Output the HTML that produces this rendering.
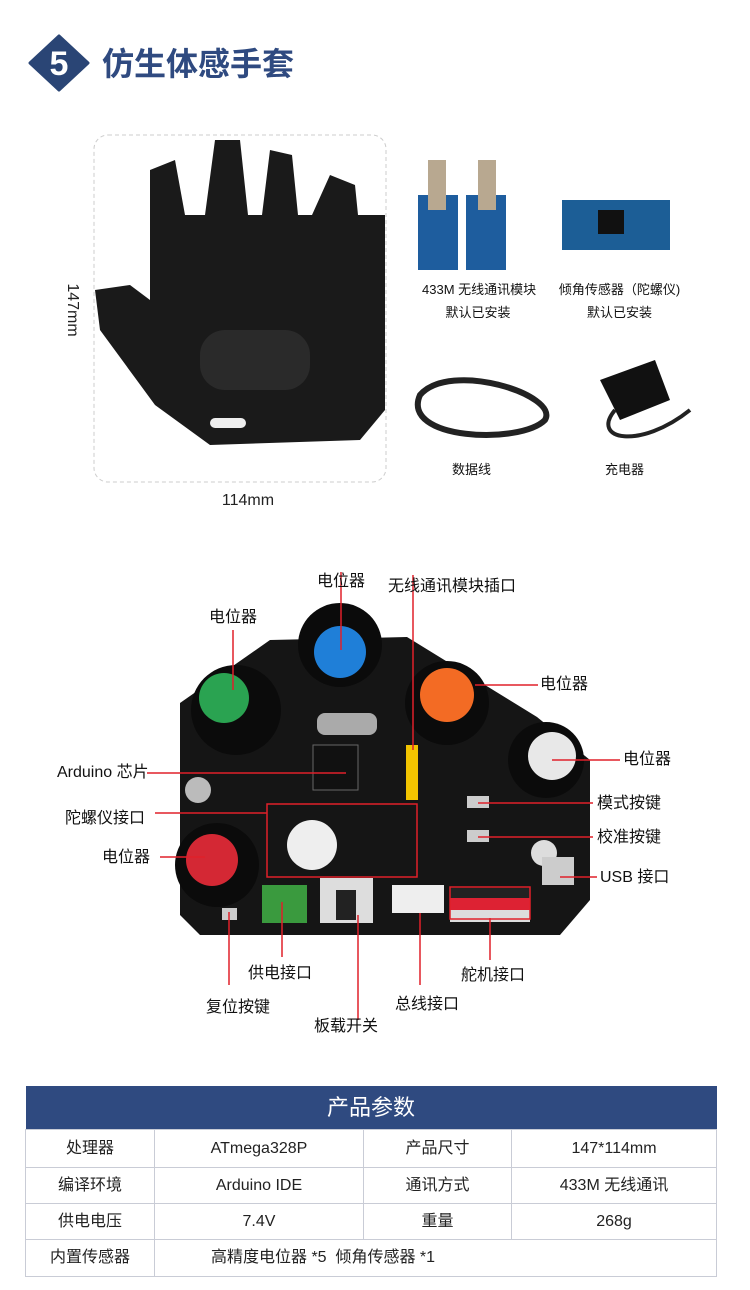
<!DOCTYPE html>
<html><head><meta charset="utf-8"><style>
body{margin:0;width:750px;height:1290px;background:#fff;font-family:"Liberation Sans","Noto Sans CJK SC",sans-serif;position:relative;overflow:hidden}
.a{position:absolute;white-space:nowrap}
.lb{position:absolute;font-size:16px;color:#111;white-space:nowrap;line-height:20px}
table{position:absolute;left:25px;top:1086px;width:692px;border-collapse:collapse;font-size:16px;color:#222}
td{border:1px solid #c9ccd6;text-align:center;height:35px;padding:0;line-height:20px;vertical-align:middle}
th{background:#2f4a80;color:#fff;font-size:22px;font-weight:normal;height:41px;line-height:28px}
</style></head><body>
<svg class="a" style="left:28px;top:34px" width="62" height="58"><path d="M31 2 L60 29 L31 56 L2 29 Z" fill="#2a4575" stroke="#2a4575" stroke-width="3" stroke-linejoin="round"/><text x="31" y="41" fill="#fff" font-size="34" font-weight="bold" text-anchor="middle" font-family="Liberation Sans">5</text></svg>
<div class="a" style="left:102px;top:44px;font-size:32px;font-weight:bold;color:#2f4a80;line-height:40px">仿生体感手套</div>

<svg class="a" style="left:0;top:0" width="750" height="560">
<rect x="94" y="135" width="292" height="347" rx="14" fill="none" stroke="#ccc" stroke-dasharray="4 3"/>
<path d="M150 170 L175 160 L185 215 L205 215 L215 140 L240 140 L248 215 L262 215 L270 150 L292 155 L298 215 L312 215 L330 175 L355 185 L358 215 L385 215 L385 410 L360 440 L210 445 L155 405 L100 330 L95 290 L130 285 L150 300 Z" fill="#1a1a1a"/>
<rect x="200" y="330" width="110" height="60" rx="25" fill="#2a2a2a"/>
<rect x="210" y="418" width="36" height="10" rx="5" fill="#eee"/>
<text x="68" y="310" font-size="16" fill="#222" transform="rotate(90 68 310)" text-anchor="middle" font-family="Liberation Sans">147mm</text>
<text x="248" y="505" font-size="16" fill="#222" text-anchor="middle" font-family="Liberation Sans">114mm</text>
<rect x="418" y="195" width="40" height="75" fill="#1e5d9e"/><rect x="466" y="195" width="40" height="75" fill="#1e5d9e"/>
<rect x="428" y="160" width="18" height="50" fill="#b8a890"/><rect x="478" y="160" width="18" height="50" fill="#b8a890"/>
<rect x="562" y="200" width="108" height="50" fill="#1c5e96"/><rect x="598" y="210" width="26" height="24" fill="#111"/>
<path d="M420 395 C400 440 520 445 545 420 C560 395 450 360 420 395 Z" fill="none" stroke="#222" stroke-width="6"/>
<path d="M600 380 L655 360 L670 400 L620 420 Z" fill="#111"/><path d="M615 410 C590 440 640 450 690 410" fill="none" stroke="#222" stroke-width="4"/>
</svg>
<div class="lb" style="left:422px;top:278px;font-size:13px;text-align:center;width:112px;line-height:23px">433M 无线通讯模块<br>默认已安装</div>
<div class="lb" style="left:552px;top:278px;font-size:13px;text-align:center;width:135px;line-height:23px">倾角传感器（陀螺仪)<br>默认已安装</div>
<div class="lb" style="left:452px;top:460px;font-size:13px">数据线</div>
<div class="lb" style="left:605px;top:460px;font-size:13px">充电器</div>

<svg class="a" style="left:0;top:560px" width="750" height="520">
<path d="M180 143 L270 80 L407 77 L537 157 L590 200 L590 340 L560 375 L200 375 L180 355 Z" fill="#151515"/>
<circle cx="236" cy="150" r="45" fill="#0b0b0b"/><circle cx="224" cy="138" r="25" fill="#2aa351"/>
<circle cx="340" cy="85" r="42" fill="#0b0b0b"/><circle cx="340" cy="92" r="26" fill="#1f7fd8"/>
<circle cx="447" cy="143" r="42" fill="#0b0b0b"/><circle cx="447" cy="135" r="27" fill="#f36b24"/>
<circle cx="546" cy="200" r="38" fill="#0b0b0b"/><circle cx="552" cy="196" r="24" fill="#e8e8e8"/>
<circle cx="217" cy="305" r="42" fill="#0b0b0b"/><circle cx="212" cy="300" r="26" fill="#d42834"/>
<circle cx="198" cy="230" r="13" fill="#bbb"/><circle cx="544" cy="293" r="13" fill="#ddd"/>
<rect x="317" y="153" width="60" height="22" rx="8" fill="#aaa"/>
<rect x="313" y="185" width="45" height="45" fill="#111" stroke="#666"/>
<rect x="406" y="185" width="12" height="55" fill="#f2c400"/>
<circle cx="312" cy="285" r="25" fill="#eee"/>
<rect x="262" y="325" width="45" height="38" fill="#3a9a3e"/>
<rect x="320" y="318" width="53" height="45" fill="#ddd"/><rect x="336" y="330" width="20" height="30" fill="#222"/>
<rect x="392" y="325" width="52" height="28" fill="#eee"/>
<rect x="450" y="328" width="80" height="10" fill="#222"/><rect x="450" y="338" width="80" height="12" fill="#d23"/><rect x="450" y="350" width="80" height="12" fill="#ddd"/>
<rect x="542" y="297" width="32" height="28" fill="#ccc"/>
<rect x="222" y="348" width="15" height="12" fill="#ccc"/>
<rect x="467" y="236" width="22" height="12" fill="#ccc"/><rect x="467" y="270" width="22" height="12" fill="#ccc"/>
<g stroke="#e0202a" stroke-width="1.5" fill="none">
<rect x="267" y="244" width="150" height="73"/><rect x="450" y="327" width="80" height="32"/>
<path d="M341 12 V90 M413 15 V190 M233 70 V130 M475 125 H538 M552 200 H620 M147 213 H346 M155 253 H267 M160 297 H205 M478 243 H593 M478 277 H593 M560 317 H597 M229 352 V425 M282 342 V397 M358 355 V460 M420 353 V425 M490 358 V400"/>
</g>
</svg>
<div class="lb" style="left:317px;top:572px">电位器</div>
<div class="lb" style="left:388px;top:577px">无线通讯模块插口</div>
<div class="lb" style="left:209px;top:608px">电位器</div>
<div class="lb" style="left:540px;top:675px">电位器</div>
<div class="lb" style="left:623px;top:750px">电位器</div>
<div class="lb" style="left:57px;top:763px">Arduino 芯片</div>
<div class="lb" style="left:65px;top:809px">陀螺仪接口</div>
<div class="lb" style="left:597px;top:794px">模式按键</div>
<div class="lb" style="left:597px;top:828px">校准按键</div>
<div class="lb" style="left:102px;top:848px">电位器</div>
<div class="lb" style="left:600px;top:868px">USB 接口</div>
<div class="lb" style="left:461px;top:966px">舵机接口</div>
<div class="lb" style="left:248px;top:964px">供电接口</div>
<div class="lb" style="left:395px;top:995px">总线接口</div>
<div class="lb" style="left:206px;top:998px">复位按键</div>
<div class="lb" style="left:314px;top:1017px">板载开关</div>

<table>
<tr><th colspan="4">产品参数</th></tr>
<tr><td style="width:128px;height:37px">处理器</td><td style="width:208px">ATmega328P</td><td style="width:147px">产品尺寸</td><td>147*114mm</td></tr>
<tr><td>编译环境</td><td>Arduino IDE</td><td>通讯方式</td><td>433M 无线通讯</td></tr>
<tr><td>供电电压</td><td>7.4V</td><td>重量</td><td>268g</td></tr>
<tr><td style="height:36px">内置传感器</td><td colspan="3" style="text-align:left;padding-left:56px">高精度电位器 *5&nbsp; 倾角传感器 *1</td></tr>
</table>
</body></html>
